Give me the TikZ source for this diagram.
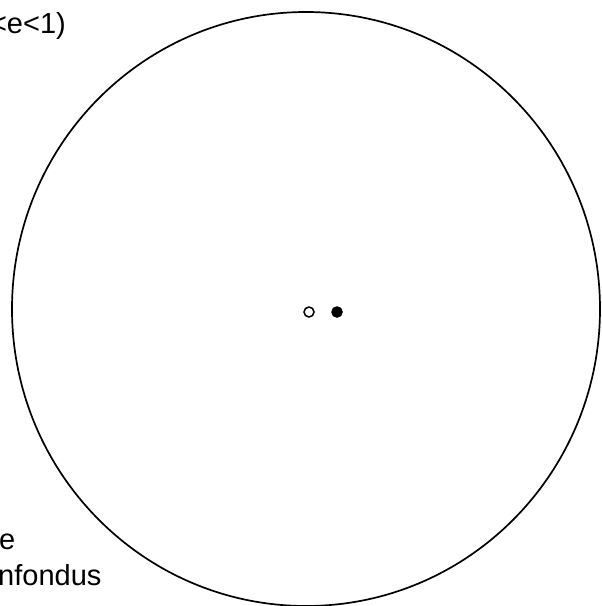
\documentclass[tikz,border=0pt]{standalone}
\usepackage{fontspec}
\setmainfont{Liberation Sans}
\usetikzlibrary{positioning}

\begin{document}
\begin{tikzpicture}[x=1pt,y=-1pt,
        lbl/.style={inner sep=0pt,font=\fontsize{29}{35}\selectfont},
        foyer/.style={circle,draw,line width=1.5pt,minimum size=10pt,inner sep=0pt}]
        \useasboundingbox (0,0) rectangle (602,606);
        \clip (0,0) rectangle (602,606);
        % orbite
        \draw[line width=1.7pt] (306,309) ellipse [x radius=294,y radius=297];
        % les deux foyers
        \node[foyer,fill=white] (vide) at (309,312) {};
        \node[foyer,fill=black] (plein) at (337,312) {};
        % textes coupes au bord
        \node[lbl,anchor=base east] (exc) at (66,33) {<e<1)};
        \node[lbl,anchor=base west] (ligne1) at (-1,549) {e};
        \node[lbl,anchor=base west] (ligne2) at (-2,585) {nfondus};
\end{tikzpicture}
\end{document}
